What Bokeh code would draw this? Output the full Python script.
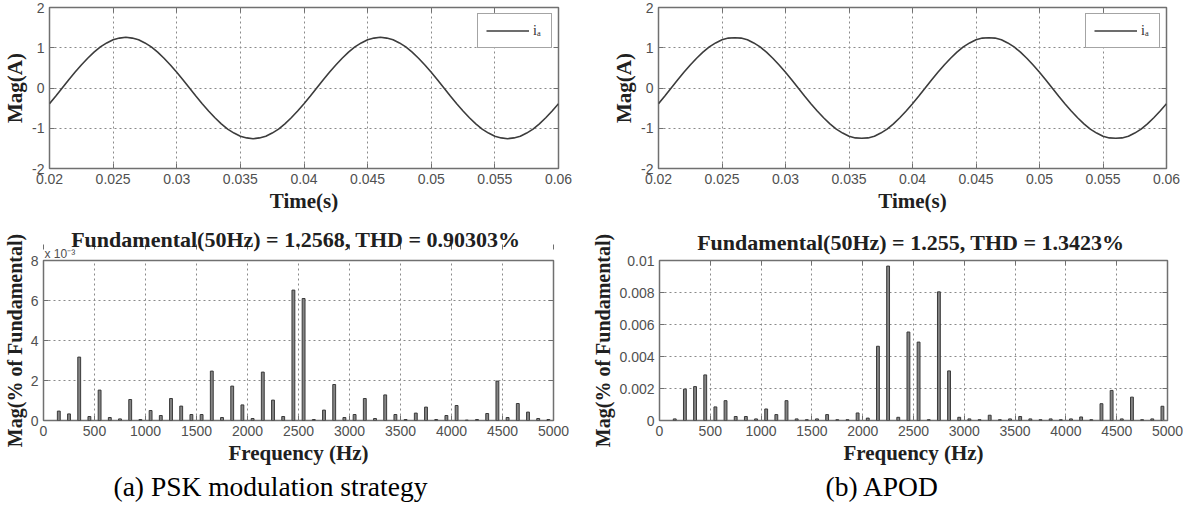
import numpy as np
from bokeh.plotting import figure
from bokeh.models import (Range1d, FixedTicker, CustomJSTickFormatter, Title,
                          ColumnDataSource, LinearAxis)
from bokeh.layouts import row, column
from bokeh.embed import file_html
from bokeh.resources import INLINE

# ---------------- data ----------------
t_start, t_step, n_pts = 0.02, 0.0005, 81
time_s = np.round(t_start + t_step * np.arange(n_pts), 5)

ia_psk = [-0.39, -0.20, 0.00, 0.20, 0.39, 0.57, 0.74, 0.89, 1.02, 1.12, 1.20, 1.24, 1.26,
          1.24, 1.20, 1.12, 1.02, 0.89, 0.74, 0.57, 0.39, 0.20, 0.00, -0.20, -0.39, -0.57,
          -0.74, -0.89, -1.02, -1.12, -1.20, -1.24, -1.26, -1.24, -1.20, -1.12, -1.02, -0.89,
          -0.74, -0.57, -0.39, -0.20, 0.00, 0.20, 0.39, 0.57, 0.74, 0.89, 1.02, 1.12, 1.20,
          1.24, 1.26, 1.24, 1.20, 1.12, 1.02, 0.89, 0.74, 0.57, 0.39, 0.20, 0.00, -0.20,
          -0.39, -0.57, -0.74, -0.89, -1.02, -1.12, -1.20, -1.24, -1.26, -1.24, -1.20, -1.12,
          -1.02, -0.89, -0.74, -0.57, -0.39]
ia_apod = [-0.39, -0.20, 0.00, 0.20, 0.39, 0.57, 0.74, 0.89, 1.02, 1.12, 1.20, 1.24, 1.25,
           1.24, 1.20, 1.12, 1.02, 0.89, 0.74, 0.57, 0.39, 0.20, 0.00, -0.20, -0.39, -0.57,
           -0.74, -0.89, -1.02, -1.12, -1.20, -1.24, -1.25, -1.24, -1.20, -1.12, -1.02, -0.89,
           -0.74, -0.57, -0.39, -0.20, 0.00, 0.20, 0.39, 0.57, 0.74, 0.89, 1.02, 1.12, 1.20,
           1.24, 1.25, 1.24, 1.20, 1.12, 1.02, 0.89, 0.74, 0.57, 0.39, 0.20, 0.00, -0.20,
           -0.39, -0.57, -0.74, -0.89, -1.02, -1.12, -1.20, -1.24, -1.25, -1.24, -1.20, -1.12,
           -1.02, -0.89, -0.74, -0.57, -0.39]

harm_freq = [150, 250, 350, 450, 550, 650, 750, 850, 950, 1050, 1150, 1250, 1350, 1450,
             1550, 1650, 1750, 1850, 1950, 2050, 2150, 2250, 2350, 2450, 2550, 2650, 2750,
             2850, 2950, 3050, 3150, 3250, 3350, 3450, 3550, 3650, 3750, 3850, 3950, 4050,
             4150, 4250, 4350, 4450, 4550, 4650, 4750, 4850, 4950]
# PSK spectrum, in units of 1e-3
mag_psk = [0.47, 0.33, 3.17, 0.20, 1.52, 0.15, 0.08, 1.05, 0.05, 0.50, 0.25, 1.10, 0.72, 0.30,
           0.30, 2.47, 0.15, 1.72, 0.78, 0.10, 2.42, 1.02, 0.20, 6.52, 6.10, 0.05, 0.52,
           1.80, 0.15, 0.30, 1.10, 0.10, 1.28, 0.30, 0.05, 0.37, 0.67, 0.05, 0.25, 0.75,
           0.02, 0.05, 0.35, 1.97, 0.15, 0.85, 0.42, 0.10, 0.05]
# APOD spectrum
mag_apod = [0.00010, 0.00196, 0.00212, 0.00285, 0.00085, 0.00124, 0.00025, 0.00025, 0.00010,
            0.00072, 0.00037, 0.00124, 0.00010, 0.00005, 0.00010, 0.00037, 0.00005, 0.00005,
            0.00047, 0.00015, 0.00464, 0.00965, 0.00020, 0.00553, 0.00490, 0.00005, 0.00804,
            0.00310, 0.00020, 0.00010, 0.00005, 0.00033, 0.00005, 0.00010, 0.00025, 0.00010,
            0.00005, 0.00010, 0.00005, 0.00010, 0.00022, 0.00005, 0.00105, 0.00188, 0.00010,
            0.00146, 0.00005, 0.00010, 0.00089]

time_ticks = [0.02, 0.025, 0.03, 0.035, 0.04, 0.045, 0.05, 0.055, 0.06]
mag_ticks = [-2, -1, 0, 1, 2]
freq_ticks = [0, 500, 1000, 1500, 2000, 2500, 3000, 3500, 4000, 4500, 5000]
psk_ticks = [0, 2, 4, 6, 8]
apod_ticks = [0, 0.002, 0.004, 0.006, 0.008, 0.01]

title_psk = "Fundamental(50Hz) = 1.2568, THD =  0.90303%"
title_apod = "Fundamental(50Hz) = 1.255, THD =  1.3423%"
cap_psk = "(a) PSK modulation strategy"
cap_apod = "(b) APOD"
mult_psk = "x 10⁻³"

# ---------------- styling helpers ----------------
SERIF = "Liberation Serif"
SANS = "Liberation Sans"
FRAME = "#707070"
fmt = CustomJSTickFormatter(code="return String(tick);")


def mirror_axes(p, xt, yt):
    # MATLAB-style box: inward ticks on the top and right edges, without labels
    for side, ticks in (("above", xt), ("right", yt)):
        ax = LinearAxis(ticker=FixedTicker(ticks=ticks))
        ax.axis_line_color = None
        ax.major_tick_in = 5
        ax.major_tick_out = 0
        ax.major_tick_line_color = FRAME
        ax.minor_tick_line_color = None
        ax.major_label_text_color = None
        ax.major_label_text_font_size = "1px"
        ax.major_label_standoff = 0
        p.add_layout(ax, side)


def style(p, xt, yt, xlabel, ylabel):
    p.background_fill_color = "white"
    p.border_fill_color = "white"
    p.outline_line_color = FRAME
    p.outline_line_width = 1.5
    p.xaxis.ticker = FixedTicker(ticks=xt)
    p.yaxis.ticker = FixedTicker(ticks=yt)
    for ax in (p.xaxis[0], p.yaxis[0]):
        ax.formatter = fmt
        ax.axis_line_color = None
        ax.major_tick_in = 5
        ax.major_tick_out = 0
        ax.major_tick_line_color = FRAME
        ax.minor_tick_line_color = None
        ax.major_label_text_font = SANS
        ax.major_label_text_font_size = "14px"
        ax.major_label_text_color = "#505050"
        ax.major_label_standoff = 5
        ax.axis_label_text_font = SERIF
        ax.axis_label_text_font_size = "21px"
        ax.axis_label_text_font_style = "bold"
        ax.axis_label_text_color = "#202020"
        ax.axis_label_standoff = 2
    p.xaxis[0].axis_label = xlabel
    p.yaxis[0].axis_label = ylabel
    for g in (p.xgrid[0], p.ygrid[0]):
        g.grid_line_color = "#8a8a8a"
        g.grid_line_dash = "2 3"
        g.grid_line_width = 1


def wave_fig(values, left, fw, right):
    p = figure(frame_width=fw, frame_height=161, min_border_left=left, min_border_right=right,
               min_border_top=7, min_border_bottom=42,
               x_range=Range1d(0.02, 0.06), y_range=Range1d(-2, 2),
               output_backend="svg", toolbar_location=None)
    style(p, time_ticks, mag_ticks, "Time(s)", "Mag(A)")
    src = ColumnDataSource(dict(t=time_s, i=values))
    p.line("t", "i", source=src, line_color="#3c3c3c", line_width=1.6, legend_label="iₐ")
    lg = p.legend[0]
    lg.location = "top_right"
    lg.margin = 6
    lg.padding = 8
    lg.spacing = 0
    lg.glyph_width = 43
    lg.glyph_height = 17
    lg.label_height = 17
    lg.label_width = 10
    lg.label_standoff = 4
    lg.label_text_font = SERIF
    lg.label_text_font_size = "14px"
    lg.label_text_color = "#303030"
    lg.border_line_color = "#4a4a4a"
    lg.border_line_width = 1.5
    lg.background_fill_alpha = 1
    mirror_axes(p, time_ticks, mag_ticks)
    return p


def spec_fig(mags, ymax, yt, title, caption, left, fw, right, cap_offset, mult=None):
    p = figure(frame_width=fw, frame_height=160, min_border_left=left, min_border_right=right,
               min_border_top=45, min_border_bottom=77,
               x_range=Range1d(0, 5000), y_range=Range1d(0, ymax),
               output_backend="svg", toolbar_location=None)
    style(p, freq_ticks, yt, "Frequency (Hz)", "Mag(% of Fundamental)")
    p.yaxis[0].axis_label_text_font_size = "20px"
    p.title.text = title
    p.title.align = "center"
    p.title.text_font = SERIF
    p.title.text_font_size = "22px"
    p.title.text_font_style = "bold"
    p.title.text_color = "#202020"
    p.title.standoff = -14 if mult else 12
    src = ColumnDataSource(dict(f=harm_freq, m=mags))
    p.vbar(x="f", top="m", width=28, source=src, fill_color="#858585",
           line_color="#3a3a3a", line_width=1)
    if mult:
        p.add_layout(Title(text=mult, align="left", offset=1, text_font=SANS,
                           text_font_size="12px", text_font_style="normal",
                           text_color="#505050", standoff=0), "above")
    p.add_layout(Title(text=caption, align="left", offset=cap_offset, text_font=SERIF,
                       text_font_size="27.5px", text_font_style="normal",
                       text_color="black", standoff=2), "below")
    mirror_axes(p, freq_ticks, yt)
    return p


p1 = wave_fig(ia_psk, 43, 509, 36)
p2 = wave_fig(ia_apod, 64, 508, 16)
p3 = spec_fig(mag_psk, 8, psk_ticks, title_psk, cap_psk, 42, 510, 36, 70, mult=mult_psk)
p4 = spec_fig(mag_apod, 0.01, apod_ticks, title_apod, cap_apod, 64, 508, 16, 166)

layout = column(row(p1, p2), row(p3, p4))

open("out.html", "w").write(file_html(layout, INLINE))
